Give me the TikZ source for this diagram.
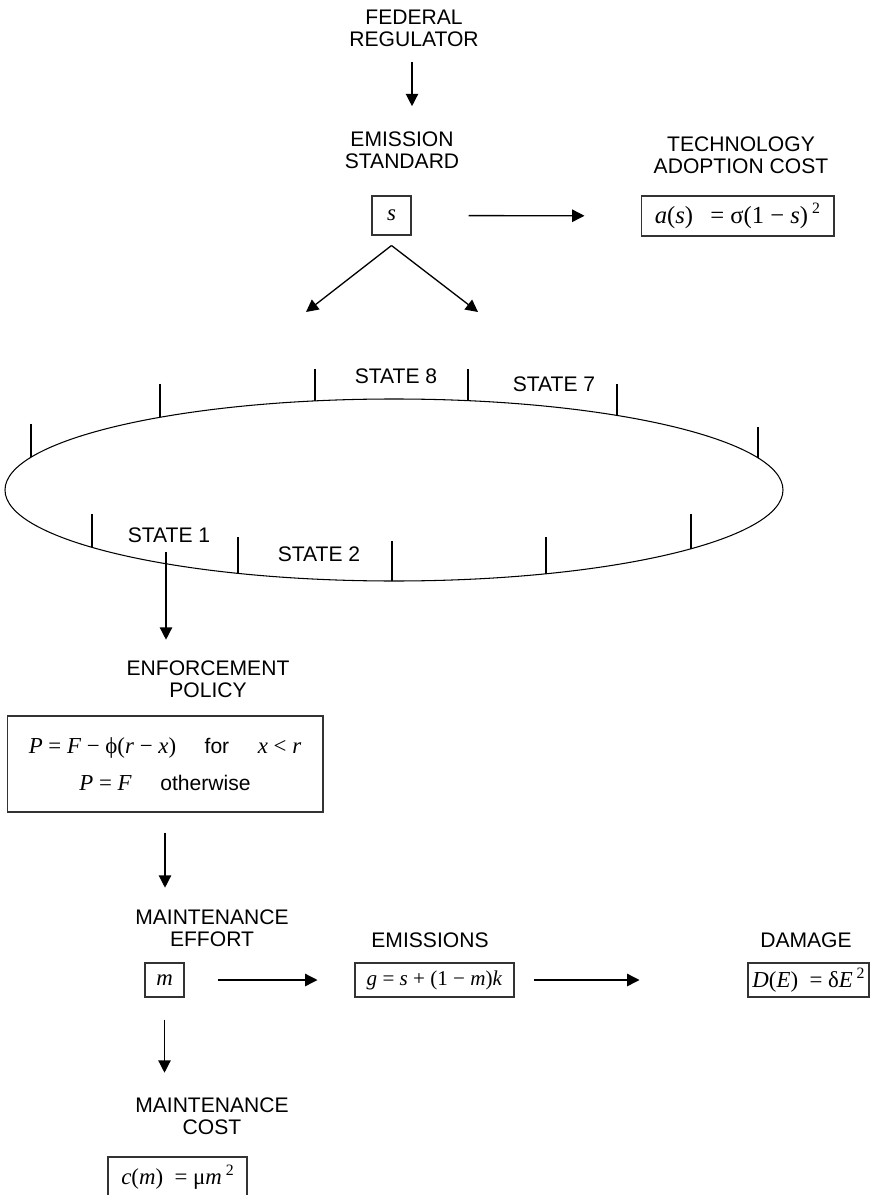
\documentclass[tikz,border=0pt]{standalone}
\usepackage{fontspec}
\setmainfont{Liberation Serif}
\setsansfont{Liberation Sans}
\usetikzlibrary{arrows.meta}
\tikzset{
  headText/.style={font=\sffamily\fontsize{12}{12.5}\selectfont, align=center, inner sep=0pt},
  stateText/.style={font=\sffamily\fontsize{12}{12.5}\selectfont, inner sep=0pt},
  eqBox/.style={draw=black!80, line width=0.6pt, inner sep=0pt, align=center,
    font=\rmfamily\fontsize{13}{15}\selectfont},
  flowArrow/.style={-{Triangle[length=7pt,width=7pt]}, line width=0.75pt},
  rim/.style={line width=0.6pt}
}
\newcommand{\iv}[1]{\textit{#1}}
\newcommand{\sqr}{\,\raisebox{0.85ex}{\fontsize{9}{9}\selectfont 2}}

\begin{document}
\begin{tikzpicture}[x=0.02cm,y=-0.02cm]
\useasboundingbox (0,0) rectangle (872,1195);
\clip (0,0) rectangle (872,1195);

\node[headText] (fedReg) at (414,28.5) {FEDERAL\\REGULATOR};
\node[headText] (emStd) at (402,150) {EMISSION\\STANDARD};
\node[headText] (techCost) at (741,155) {TECHNOLOGY\\ADOPTION COST};
\node[eqBox, minimum width=0.78cm, minimum height=0.78cm] (sBox) at (391.5,215.5) {\iv{s}};
\node[eqBox, minimum width=3.86cm, minimum height=0.8cm, font=\rmfamily\fontsize{14}{16}\selectfont] (aBox) at (737.5,216)
  {\iv{a}(\iv{s})\hspace{0.7em}=\hspace{0.25em}σ(1 − \iv{s})\sqr};
\coordinate (fedDrop) at (412,62);
\draw[flowArrow, shorten >=0.5cm] (fedDrop) -- (fedDrop |- emStd.north);
\draw[flowArrow, shorten <=1.14cm, shorten >=1.12cm] (sBox) -- (aBox);
\coordinate (splitTop) at ([yshift=-0.2cm]sBox.south);
\coordinate (toLeft) at (306,312);
\coordinate (toRight) at (478,312);
\draw[flowArrow] (splitTop) -- (toLeft);
\draw[flowArrow] (splitTop) -- (toRight);

\draw[rim] (394,490) ellipse [x radius=389, y radius=91];
\foreach \tx/\ty in {31/424,160/384,315/369,468/369,617/384,758/427}
  \draw[rim] (\tx,\ty) -- (\tx,{490-91*sqrt(1-((\tx-394)/389)^2)});
\foreach \tx/\ty in {92/514,238/537,392/541,546/537,691/514}
  \draw[rim] (\tx,\ty) -- (\tx,{490+91*sqrt(1-((\tx-394)/389)^2)});
\node[stateText] (state8) at (396,376) {STATE 8};
\node[stateText] (state7) at (554,384.5) {STATE 7};
\node[stateText] (state1) at (169,535) {STATE 1};
\node[stateText] (state2) at (319,554.5) {STATE 2};

\coordinate (s1Tick) at (166,552);
\node[headText] (enfHead) at (208,679) {ENFORCEMENT\\POLICY};
\draw[flowArrow, shorten >=0.41cm] (s1Tick) -- (s1Tick |- enfHead.north);
\node[eqBox, minimum width=6.32cm, minimum height=1.92cm] (policyBox) at (165,764)
  {\iv{P} = \iv{F} − ϕ(\iv{r} − \iv{x})\quad\ {\sffamily\fontsize{12}{12.5}\selectfont for}\quad\ \iv{x} < \iv{r}\\[6pt]
   \iv{P} = \iv{F}\quad\ {\sffamily\fontsize{12}{12.5}\selectfont otherwise}};
\node[headText] (effortHead) at (212,928.5) {MAINTENANCE\\EFFORT};
\draw[flowArrow, shorten <=0.4cm, shorten >=0.44cm] (policyBox.south) -- (policyBox.south |- effortHead.north);

\node[eqBox, minimum width=0.78cm, minimum height=0.68cm] (mBox) at (164.5,980) {\iv{m}};
\node[headText] (emisHead) at (430,940) {EMISSIONS};
\node[eqBox, minimum width=3.18cm, minimum height=0.68cm, font=\rmfamily\fontsize{12}{14}\selectfont] (gBox) at (434.5,980)
  {\iv{g} = \iv{s} + (1 − \iv{m})\iv{k}};
\node[headText] (dmgHead) at (806,940) {DAMAGE};
\node[eqBox, minimum width=2.42cm, minimum height=0.68cm] (dBox) at (808.5,980)
  {\iv{D}(\iv{E})\ \ = δ\iv{E}\sqr};
\draw[flowArrow, shorten <=0.66cm, shorten >=0.74cm] (mBox) -- (gBox);
\draw[flowArrow, shorten <=0.38cm, shorten >=2.16cm] (gBox) -- (dBox);

\node[headText] (costHead) at (212,1116.5) {MAINTENANCE\\COST};
\draw[flowArrow, shorten <=0.44cm, shorten >=0.5cm] (mBox.south) -- (mBox.south |- costHead.north);
\node[eqBox, minimum width=2.78cm, minimum height=0.8cm] (cBox) at (177.5,1177)
  {\iv{c}(\iv{m})\ \ = μ\iv{m}\sqr};
\end{tikzpicture}
\end{document}
